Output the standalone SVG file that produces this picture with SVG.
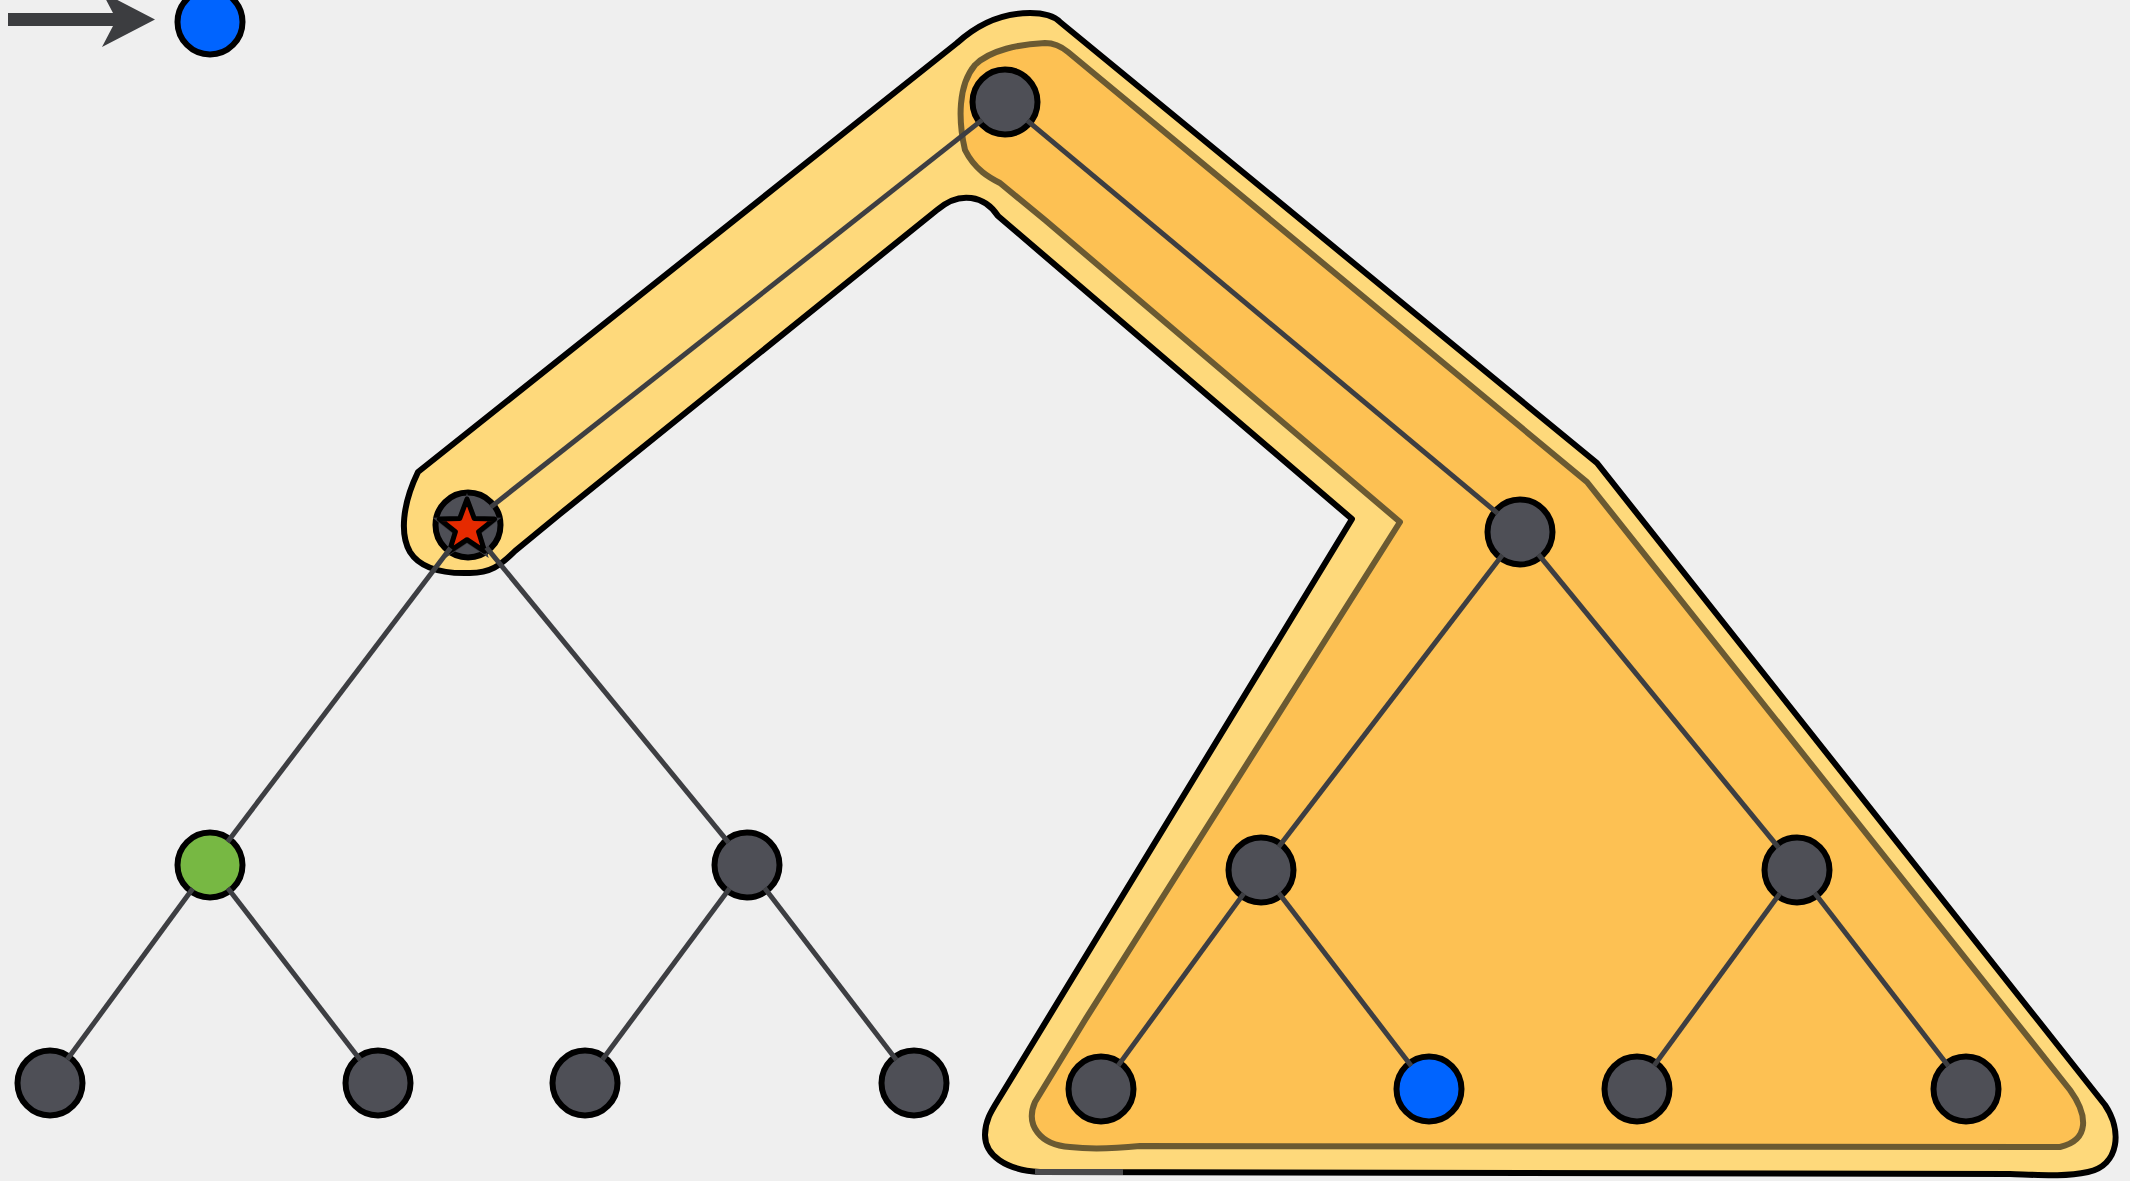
<svg xmlns="http://www.w3.org/2000/svg" width="2130" height="1181" viewBox="0 0 2130 1181">
<defs>
<style>
.node{stroke:#000;stroke-width:6}
.dark{fill:#4e4f56}
.blue{fill:#0064ff}
.green{fill:#77b843}
.edge{stroke:#3d3e42;stroke-width:5;stroke-linecap:butt;fill:none}
</style>
</defs>
<rect x="0" y="0" width="2130" height="1181" fill="#efefef"/>
<g id="highlight">
<path d="M418,472 L957,43 C980,22 1005,13 1030,13 C1045,13 1055,17 1060,22 L1597,463 L2105,1105 C2122,1130 2120,1165 2088,1172 C2065,1177 2040,1175 2010,1174 L1040,1172 C1005,1170 985,1155 985,1135 C985,1120 992,1110 1000,1097 L1352,519 L998,216 C985,196 960,190 937,210 L560,514 L515,551 C500,566 490,573 470,573 C440,574 420,568 410,552 C400,535 402,505 418,472 Z" fill="#fed97b" stroke="#000" stroke-width="6" stroke-linejoin="round"/>
<path d="M1035,1172 L1123,1172" stroke="#4a4a4c" stroke-width="6" fill="none"/>
<path d="M965,150 C958,120 958,85 975,65 C990,50 1020,44 1045,43 C1055,43 1062,47 1068,52 L1587,482 L2070,1090 C2088,1115 2090,1140 2060,1147 L1140,1146 C1120,1148 1095,1150 1070,1147 C1040,1145 1025,1125 1035,1102 L1085,1020 L1400,522 L1045,220 L1000,183 C990,178 975,170 965,150 Z" fill="#fdc153" stroke="#6b5a32" stroke-width="6" stroke-linejoin="round"/>
</g>
<g id="pointer">
<path d="M8,13 L113,13 L102,-8 L155,19.5 L102,47 L113,26 L8,26 Z" fill="#3c3d40"/>
</g>
<g id="node-target"><circle class="node blue" cx="210" cy="22" r="32.5"/></g>
<g id="node-root"><circle class="node dark" cx="1005" cy="102" r="32.5"/></g>
<g id="node-star">
<circle class="node dark" cx="468" cy="525" r="32.5"/>
<polygon points="467,493 475.9,517 501.4,517.8 481.4,533.5 488.7,558 467,543.6 445.3,558 452.6,533.5 432.6,517.8 458.1,517" fill="#3a3b41"/>
<polygon points="467,499 474.2,518.4 494.6,519 478.6,531.7 484.6,551.3 467,539.7 449.4,551.3 455.4,531.7 439.4,519 459.8,518.4" fill="#e52a00" stroke="#000" stroke-width="5" stroke-linejoin="round"/>
</g>
<g id="node-right"><circle class="node dark" cx="1520" cy="532" r="32.5"/></g>
<g id="node-green"><circle class="node green" cx="210" cy="865" r="32.5"/></g>
<g id="node-e"><circle class="node dark" cx="747" cy="865" r="32.5"/></g>
<g id="node-f"><circle class="node dark" cx="1261" cy="870" r="32.5"/></g>
<g id="node-g"><circle class="node dark" cx="1797" cy="870" r="32.5"/></g>
<g id="leaf-1"><circle class="node dark" cx="50" cy="1083" r="32.5"/></g>
<g id="leaf-2"><circle class="node dark" cx="378" cy="1083" r="32.5"/></g>
<g id="leaf-3"><circle class="node dark" cx="585" cy="1083" r="32.5"/></g>
<g id="leaf-4"><circle class="node dark" cx="914" cy="1083" r="32.5"/></g>
<g id="leaf-5"><circle class="node dark" cx="1101" cy="1089" r="32.5"/></g>
<g id="leaf-6"><circle class="node blue" cx="1429" cy="1089" r="32.5"/></g>
<g id="leaf-7"><circle class="node dark" cx="1637" cy="1089" r="32.5"/></g>
<g id="leaf-8"><circle class="node dark" cx="1966" cy="1089" r="32.5"/></g>
<g id="connectors">
<line class="edge" x1="982.2" y1="119.9" x2="490.8" y2="507.1"/>
<line class="edge" x1="1027.3" y1="120.6" x2="1497.7" y2="513.4"/>
<line class="edge" x1="450.5" y1="548.1" x2="227.5" y2="841.9"/>
<line class="edge" x1="486.4" y1="547.4" x2="728.6" y2="842.6"/>
<line class="edge" x1="1502.4" y1="555.0" x2="1278.6" y2="847.0"/>
<line class="edge" x1="1538.4" y1="554.4" x2="1778.6" y2="847.6"/>
<line class="edge" x1="192.8" y1="888.4" x2="67.2" y2="1059.6"/>
<line class="edge" x1="227.7" y1="888.0" x2="360.3" y2="1060.0"/>
<line class="edge" x1="729.7" y1="888.3" x2="602.3" y2="1059.7"/>
<line class="edge" x1="764.6" y1="888.0" x2="896.4" y2="1060.0"/>
<line class="edge" x1="1243.9" y1="893.4" x2="1118.1" y2="1065.6"/>
<line class="edge" x1="1278.7" y1="893.0" x2="1411.3" y2="1066.0"/>
<line class="edge" x1="1779.9" y1="893.4" x2="1654.1" y2="1065.6"/>
<line class="edge" x1="1814.7" y1="893.0" x2="1948.3" y2="1066.0"/>
</g>
</svg>
